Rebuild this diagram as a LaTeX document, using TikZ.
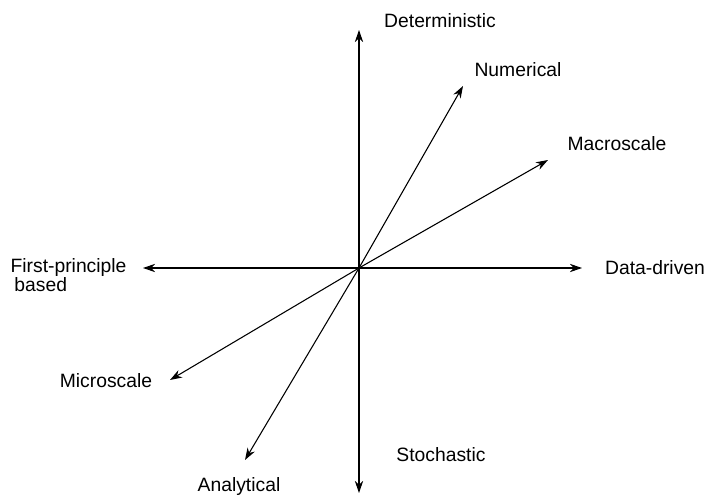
\documentclass[tikz,border=0pt]{standalone}
\usepackage{fontspec}
\setmainfont{Liberation Sans}
\usetikzlibrary{positioning,arrows.meta}
\tikzset{
    axis arrow/.style={-{Stealth[length=3.2mm,width=2.2mm]}, line width=0.8pt},
    axis label/.style={font=\fontsize{14.5}{15}\selectfont, inner sep=1pt}
}
\begin{document}
\begin{tikzpicture}[x=0.0264cm, y=-0.0264cm]
    \useasboundingbox (0,0) rectangle (711,499);
    % origin and arrow ends
    \coordinate (o) at (359,268);
    \coordinate (det) at (359,30);
    \coordinate (sto) at (359,493);
    \coordinate (dat) at (582,268);
    \coordinate (fir) at (143,268);
    \coordinate (num) at (463,86);
    \coordinate (mac) at (548,160);
    \coordinate (mic) at (170,380);
    \coordinate (ana) at (245,460);

    % arrows
    \draw[axis arrow] (o) -- (det);
    \draw[axis arrow] (o) -- (sto);
    \draw[axis arrow] (o) -- (dat);
    \draw[axis arrow] (o) -- (fir);
    \draw[axis arrow] (o) -- (num);
    \draw[axis arrow] (o) -- (mac);
    \draw[axis arrow] (o) -- (mic);
    \draw[axis arrow] (o) -- (ana);

    % labels
    \node[axis label] (ldet) at (440,21) {Deterministic};
    \node[axis label] (lsto) at (441,455) {Stochastic};
    \node[axis label] (ldat) at (655,268) {Data-driven};
    \node[axis label, align=left, anchor=west] (lfir) at (9,275) {First-principle\\[-1pt]\hspace{0.2em}based};
    \node[axis label] (lnum) at (518,70) {Numerical};
    \node[axis label] (lmac) at (617,144) {Macroscale};
    \node[axis label] (lmic) at (106,381) {Microscale};
    \node[axis label] (lana) at (239,487) {Analytical};
\end{tikzpicture}
\end{document}
